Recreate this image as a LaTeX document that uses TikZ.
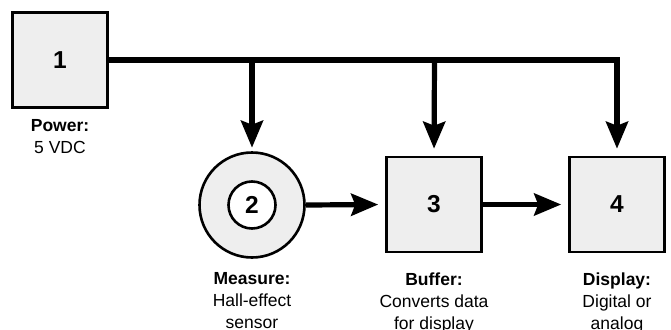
\documentclass[tikz,border=0pt]{standalone}
\usepackage{fontspec}
\setmainfont{Liberation Sans}
\usetikzlibrary{arrows.meta}
\definecolor{boxfill}{RGB}{238,238,238}
\tikzset{
  blockbox/.style={draw=black, line width=2.6pt, fill=boxfill, minimum size=95pt, inner sep=0pt,
    font=\fontsize{24.5}{28}\selectfont\bfseries},
  outercirc/.style={circle, draw=black, line width=2.6pt, fill=boxfill, minimum size=105pt, inner sep=0pt},
  innercirc/.style={circle, draw=black, line width=2.6pt, fill=white, minimum size=47pt, inner sep=0pt,
    font=\fontsize{24.5}{28}\selectfont\bfseries},
  lbl/.style={anchor=north, inner sep=0pt, align=center, font=\fontsize{17.5}{22}\selectfont},
  bus/.style={line width=5.2pt, line join=miter},
  arr/.style={line width=5.2pt, -{Stealth[length=27pt, width=22pt, inset=4pt]}},
}
\begin{document}
\begin{tikzpicture}[x=1pt, y=-1pt]
\useasboundingbox (0,0) rectangle (671,329);
\node[blockbox] (n1) at (60,60) {1};
\node[outercirc] (n2o) at (252,205) {};
\node[innercirc] (n2) at (252,205) {2};
\node[blockbox] (n3) at (434,204.5) {3};
\node[blockbox] (n4) at (617,204.5) {4};

\coordinate (c2) at (252,60);
\coordinate (c3) at (434.5,60);
\coordinate (c4) at (617,60);

\draw[bus, arr, shorten >=7pt] (n1.east) -- (c4) -- (n4.north);
\draw[arr, shorten >=3.5pt] (c2) -- (n2o.north);
\draw[arr, shorten >=7pt] (c3) -- (n3.north);
\draw[arr, shorten >=7pt] (n2o.east) -- (n3.west);
\draw[arr, shorten >=7pt] (n3.east) -- (n4.west);

\node[lbl] (t1) at (60,119.5) {\textbf{Power:}\\5 VDC};
\node[lbl] (t2) at (252,272.5) {\textbf{Measure:}\\Hall-effect\\sensor};
\node[lbl] (t3) at (434,272.5) {\textbf{Buffer:}\\Converts data\\for display};
\node[lbl] (t4) at (617,272.5) {\textbf{Display:}\\Digital or\\analog};
\end{tikzpicture}
\end{document}
